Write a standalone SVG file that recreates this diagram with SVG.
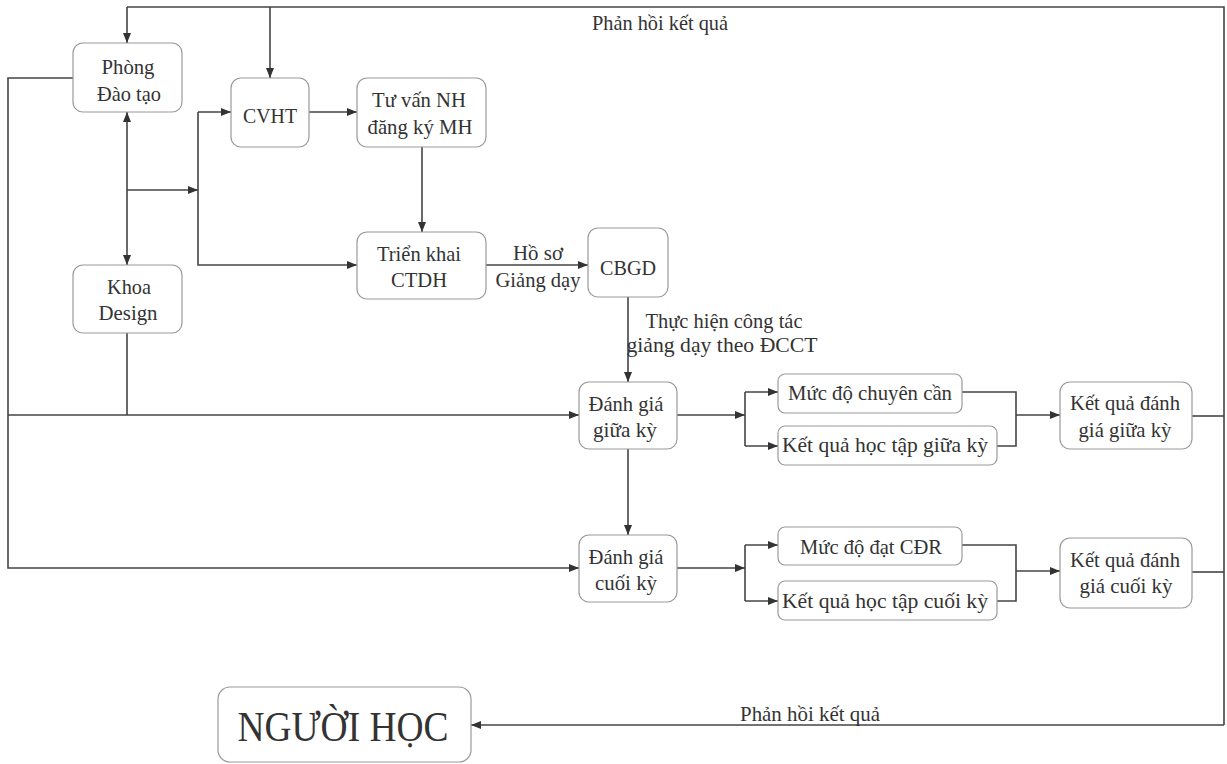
<svg xmlns="http://www.w3.org/2000/svg" width="1227" height="764" viewBox="0 0 1227 764">
<style>
.box{fill:#fff;stroke:#9a9a9a;stroke-width:1.2}
.t{font-family:"Liberation Serif","Times New Roman",serif;font-size:22px;fill:#333;text-anchor:middle}
.big{font-size:42px}
.c{fill:none;stroke:#444;stroke-width:1.6}
.a{marker-end:url(#ah)}
.b{marker-start:url(#ahs);marker-end:url(#ah)}
</style>
<defs>
<marker id="ah" markerUnits="userSpaceOnUse" markerWidth="10" markerHeight="8" refX="10" refY="4" orient="auto">
<path d="M0,0 L10,4 L0,8 z" fill="#333"/>
</marker>
<marker id="ahs" markerUnits="userSpaceOnUse" markerWidth="10" markerHeight="8" refX="0" refY="4" orient="auto">
<path d="M10,0 L0,4 L10,8 z" fill="#333"/>
</marker>
</defs>
<rect width="1227" height="764" fill="#fff"/>
<g id="connectors">
<polyline class="c" points="127,7 1224,7 1224,725"/>
<line class="c a" x1="127" y1="7" x2="127" y2="43"/>
<line class="c a" x1="270" y1="7" x2="270" y2="78"/>
<line class="c" x1="1192" y1="416" x2="1224" y2="416"/>
<line class="c" x1="1192" y1="572" x2="1224" y2="572"/>
<line class="c a" x1="1224" y1="725" x2="471" y2="725"/>
<polyline class="c a" points="73,78 8,78 8,568 579,568"/>
<line class="c a" x1="8" y1="415" x2="579" y2="415"/>
<line class="c" x1="127" y1="333" x2="127" y2="415"/>
<line class="c b" x1="127" y1="112" x2="127" y2="265"/>
<line class="c a" x1="127" y1="190" x2="198" y2="190"/>
<polyline class="c a" points="198,112 198,265 357,265"/>
<line class="c a" x1="198" y1="112" x2="231" y2="112"/>
<line class="c a" x1="309" y1="112" x2="357" y2="112"/>
<line class="c a" x1="422" y1="147" x2="422" y2="232"/>
<line class="c a" x1="486" y1="265" x2="588" y2="265"/>
<line class="c a" x1="628" y1="297" x2="628" y2="382"/>
<line class="c a" x1="628" y1="449" x2="628" y2="535"/>
<line class="c a" x1="677" y1="415" x2="745" y2="415"/>
<line class="c" x1="745" y1="392" x2="745" y2="446"/>
<line class="c a" x1="745" y1="392" x2="778" y2="392"/>
<line class="c a" x1="745" y1="446" x2="778" y2="446"/>
<polyline class="c" points="962,392 1016,392 1016,446 997,446"/>
<line class="c a" x1="1016" y1="415" x2="1060" y2="415"/>
<line class="c a" x1="677" y1="568" x2="745" y2="568"/>
<line class="c" x1="745" y1="545" x2="745" y2="601"/>
<line class="c a" x1="745" y1="545" x2="778" y2="545"/>
<line class="c a" x1="745" y1="601" x2="778" y2="601"/>
<polyline class="c" points="962,545 1016,545 1016,601 997,601"/>
<line class="c a" x1="1016" y1="571" x2="1060" y2="571"/>
<text class="t" x="660" y="30" textLength="136" lengthAdjust="spacingAndGlyphs">Phản hồi kết quả</text>
<text class="t" x="810" y="721" textLength="140" lengthAdjust="spacingAndGlyphs">Phản hồi kết quả</text>
<text class="t" x="538" y="260" textLength="50" lengthAdjust="spacingAndGlyphs">Hồ sơ</text>
<text class="t" x="538" y="287" textLength="85" lengthAdjust="spacingAndGlyphs">Giảng dạy</text>
<text class="t" x="724" y="328" textLength="157" lengthAdjust="spacingAndGlyphs">Thực hiện công tác</text>
<text class="t" x="722" y="352" textLength="191" lengthAdjust="spacingAndGlyphs">giảng dạy theo ĐCCT</text>
</g>
<g id="phong-dao-tao">
<rect class="box" x="73" y="43" width="109" height="69" rx="10"/>
<text class="t" x="128" y="74" textLength="53" lengthAdjust="spacingAndGlyphs">Phòng</text>
<text class="t" x="129" y="101" textLength="64" lengthAdjust="spacingAndGlyphs">Đào tạo</text>
</g>
<g id="khoa-design">
<rect class="box" x="73" y="265" width="109" height="68" rx="10"/>
<text class="t" x="129" y="294" textLength="44" lengthAdjust="spacingAndGlyphs">Khoa</text>
<text class="t" x="128" y="320" textLength="59" lengthAdjust="spacingAndGlyphs">Design</text>
</g>
<g id="cvht">
<rect class="box" x="231" y="78" width="78" height="69" rx="10"/>
<text class="t" x="270" y="123" textLength="54" lengthAdjust="spacingAndGlyphs">CVHT</text>
</g>
<g id="tu-van">
<rect class="box" x="357" y="78" width="129" height="69" rx="10"/>
<text class="t" x="419" y="107" textLength="94" lengthAdjust="spacingAndGlyphs">Tư vấn NH</text>
<text class="t" x="420" y="134" textLength="105" lengthAdjust="spacingAndGlyphs">đăng ký MH</text>
</g>
<g id="trien-khai">
<rect class="box" x="357" y="232" width="129" height="67" rx="10"/>
<text class="t" x="419" y="261" textLength="84" lengthAdjust="spacingAndGlyphs">Triển khai</text>
<text class="t" x="419" y="287" textLength="56" lengthAdjust="spacingAndGlyphs">CTDH</text>
</g>
<g id="cbgd">
<rect class="box" x="588" y="228" width="80" height="69" rx="10"/>
<text class="t" x="628" y="275" textLength="56" lengthAdjust="spacingAndGlyphs">CBGD</text>
</g>
<g id="danh-gia-giua-ky">
<rect class="box" x="579" y="382" width="98" height="67" rx="10"/>
<text class="t" x="626" y="411" textLength="75" lengthAdjust="spacingAndGlyphs">Đánh giá</text>
<text class="t" x="625" y="437" textLength="64" lengthAdjust="spacingAndGlyphs">giữa kỳ</text>
</g>
<g id="danh-gia-cuoi-ky">
<rect class="box" x="579" y="535" width="98" height="67" rx="10"/>
<text class="t" x="626" y="564" textLength="75" lengthAdjust="spacingAndGlyphs">Đánh giá</text>
<text class="t" x="626" y="590" textLength="62" lengthAdjust="spacingAndGlyphs">cuối kỳ</text>
</g>
<g id="muc-do-chuyen-can">
<rect class="box" x="778" y="374" width="184" height="39" rx="7"/>
<text class="t" x="870" y="400" textLength="164" lengthAdjust="spacingAndGlyphs">Mức độ chuyên cần</text>
</g>
<g id="kq-hoc-tap-giua-ky">
<rect class="box" x="778" y="426" width="219" height="39" rx="7"/>
<text class="t" x="885" y="452" textLength="206" lengthAdjust="spacingAndGlyphs">Kết quả học tập giữa kỳ</text>
</g>
<g id="muc-do-dat-cdr">
<rect class="box" x="778" y="527" width="184" height="38" rx="7"/>
<text class="t" x="871" y="554" textLength="142" lengthAdjust="spacingAndGlyphs">Mức độ đạt CĐR</text>
</g>
<g id="kq-hoc-tap-cuoi-ky">
<rect class="box" x="778" y="581" width="219" height="39" rx="7"/>
<text class="t" x="885" y="608" textLength="206" lengthAdjust="spacingAndGlyphs">Kết quả học tập cuối kỳ</text>
</g>
<g id="kq-danh-gia-giua-ky">
<rect class="box" x="1060" y="382" width="132" height="67" rx="10"/>
<text class="t" x="1125" y="410" textLength="110" lengthAdjust="spacingAndGlyphs">Kết quả đánh</text>
<text class="t" x="1125" y="437" textLength="93" lengthAdjust="spacingAndGlyphs">giá giữa kỳ</text>
</g>
<g id="kq-danh-gia-cuoi-ky">
<rect class="box" x="1060" y="538" width="132" height="70" rx="10"/>
<text class="t" x="1125" y="567" textLength="110" lengthAdjust="spacingAndGlyphs">Kết quả đánh</text>
<text class="t" x="1126" y="593" textLength="93" lengthAdjust="spacingAndGlyphs">giá cuối kỳ</text>
</g>
<g id="nguoi-hoc">
<rect class="box" x="218" y="687" width="253" height="75" rx="12"/>
<text class="t big" x="343" y="741" textLength="211" lengthAdjust="spacingAndGlyphs">NGƯỜI HỌC</text>
</g>
</svg>
